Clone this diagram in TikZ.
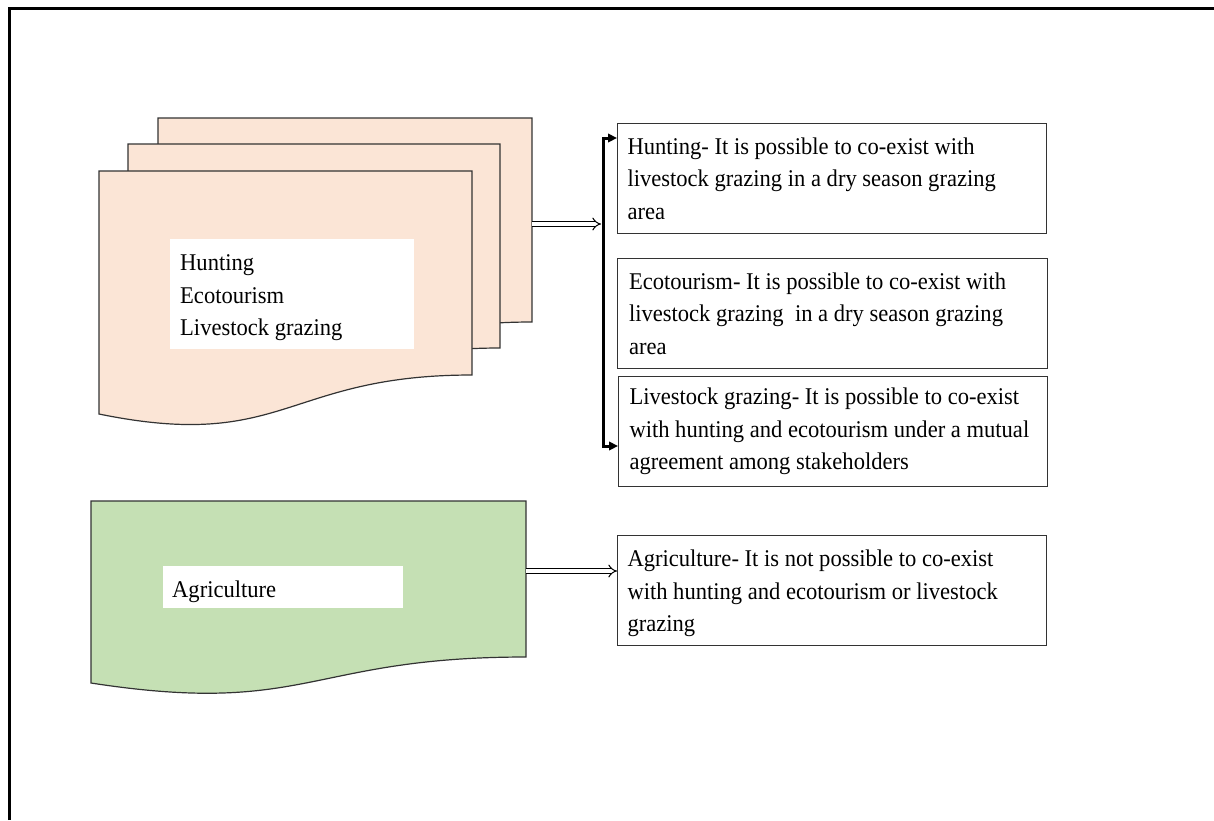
\documentclass[tikz,border=0pt]{standalone}
\usepackage{fontspec}
\setmainfont{Liberation Serif}[FakeStretch=0.94]
\usetikzlibrary{arrows.meta}

\definecolor{peach}{HTML}{FBE5D6}
\definecolor{leaf}{HTML}{C5E0B4}
\definecolor{edge}{HTML}{333333}

\tikzset{
  txt/.style={font=\fontsize{24}{32.5}\selectfont},
  page/.style={fill=peach, draw=edge, line width=1.2pt, line join=miter},
  farm/.style={fill=leaf, draw=edge, line width=1.2pt},
  label/.style={txt, inner xsep=10pt, inner ysep=0pt, align=left, anchor=west},
  note/.style={txt, draw=edge, line width=1pt, fill=white, inner xsep=10pt,
               inner ysep=0pt, text width=409pt, minimum width=429pt,
               minimum height=110pt, align=flush left, anchor=north west},
  flow/.style={double, double distance=3.5pt, line width=1pt, -{Implies}},
  bracket/.style={line width=3pt,
    {Triangle[length=9pt,width=8.5pt]}-{Triangle[length=9pt,width=8.5pt]}}
}

\begin{document}
\begin{tikzpicture}[x=1pt,y=-1pt]
\useasboundingbox (0,0) rectangle (1214,820);

% frame
\draw[line width=3.6pt] (9.3,820) -- (9.3,8.5) -- (1214,8.5);

% stacked pages (back to front), each a flat top with a wavy bottom
\path[page] (158,118) -- (532,118) -- (532,322)
  .. controls (345,322) and (345,399) .. (158,361) -- cycle;
\path[page] (128,144) -- (500,144) -- (500,348)
  .. controls (314,348) and (314,425) .. (128,387) -- cycle;
\path[page] (99,171) -- (472,171) -- (472,375)
  .. controls (285,375) and (285,452) .. (99,414) -- cycle;

\fill[white] (170,239) rectangle (414,349);
\node[label] (acts) at (170,298) {Hunting\\Ecotourism\\Livestock grazing};

% agriculture page
\path[farm] (91,501) -- (526,501) -- (526,657)
  .. controls (308,657) and (308,716.5) .. (91,683) -- cycle;

\fill[white] (163,566) rectangle (403,608);
\node[label, inner xsep=9pt] (agri) at (163,591.5) {Agriculture};

% notes on the right
\node[note] (hunt) at (617,123)
  {Hunting- It is possible to co-exist with\\livestock grazing in a dry season grazing\\area};
\node[note, inner xsep=11.5pt, text width=407pt, minimum width=430pt] (eco) at (617,258)
  {Ecotourism- It is possible to co-exist with\\livestock grazing\ \ in a dry season grazing\\area};
\node[note, inner xsep=11pt, text width=407pt] (live) at (618,376)
  {Livestock grazing- It is possible to co-exist\\with hunting and ecotourism under a mutual\\agreement among stakeholders};
\node[note] (crop) at (617,535)
  {\rule{0pt}{23pt}Agriculture- It is not possible to co-exist\\with hunting and ecotourism or livestock\\grazing};

% connectors
\coordinate (stackR) at (532,224);
\coordinate (stackT) at (601,224);
\coordinate (brT) at (603.5,138);
\coordinate (brB) at (603.5,446);
\coordinate (farmR) at (526,571);

\draw[flow] (stackR) -- (stackT);
\draw[bracket] (hunt.west |- brT) -- (brT) -- (brB) -- (live.west |- brB);
\draw[flow] (farmR) -- (crop.west |- farmR);
\end{tikzpicture}
\end{document}
